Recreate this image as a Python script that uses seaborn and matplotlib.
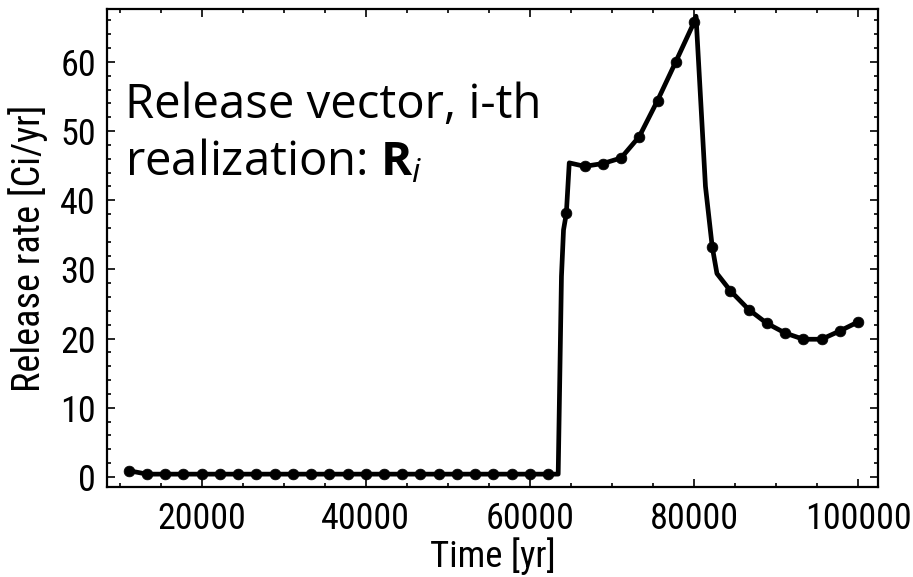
import matplotlib
matplotlib.use("Agg")
import matplotlib.pyplot as plt
import seaborn as sns
import pandas as pd

# Sampled release rates (markers) for the i-th realization
time_yr = [11111, 13333, 15556, 17778, 20000, 22222, 24444, 26667, 28889,
           31111, 33333, 35556, 37778, 40000, 42222, 44444, 46667, 48889,
           51111, 53333, 55556, 57778, 60000, 62222, 64444, 66667, 68889,
           71111, 73333, 75556, 77778, 80000, 82222, 84444, 86667, 88889,
           91111, 93333, 95556, 97778, 100000]
release_ci = [0.9, 0.4, 0.4, 0.4, 0.4, 0.4, 0.4, 0.4, 0.4,
              0.4, 0.4, 0.4, 0.4, 0.4, 0.4, 0.4, 0.4, 0.4,
              0.4, 0.4, 0.4, 0.4, 0.4, 0.4, 38.1, 44.9, 45.3,
              46.1, 49.2, 54.4, 60.0, 65.7, 33.3, 26.9, 24.2, 22.2,
              20.8, 19.9, 19.9, 21.1, 22.4]

# Continuous release curve (finer resolution than the samples)
curve_time = [11111, 13333, 15556, 17778, 20000, 22222, 24444, 26667, 28889,
              31111, 33333, 35556, 37778, 40000, 42222, 44444, 46667, 48889,
              51111, 53333, 55556, 57778, 60000, 62222, 63450, 63850, 64100,
              64444, 64800, 66667, 68889, 71111, 73333, 75556, 77778, 80000,
              80250, 81400, 82222, 82800, 84444, 86667, 88889, 91111, 93333,
              95556, 97778, 100000]
curve_ci = [0.9, 0.4, 0.4, 0.4, 0.4, 0.4, 0.4, 0.4, 0.4,
            0.4, 0.4, 0.4, 0.4, 0.4, 0.4, 0.4, 0.4, 0.4,
            0.4, 0.4, 0.4, 0.4, 0.4, 0.4, 0.4, 29.0, 35.7,
            38.1, 45.4, 44.9, 45.3, 46.1, 49.2, 54.4, 60.0, 65.7,
            66.6, 42.0, 33.3, 29.4, 26.9, 24.2, 22.2, 20.8, 19.9,
            19.9, 21.1, 22.4]

x_major = [20000, 40000, 60000, 80000, 100000]
x_minor = list(range(10000, 100001, 5000))
y_major = [0, 10, 20, 30, 40, 50, 60]
y_minor = list(range(0, 67, 2))

samples = pd.DataFrame({"time": time_yr, "rate": release_ci})
curve = pd.DataFrame({"time": curve_time, "rate": curve_ci})

sns.set_theme(style="ticks")
plt.rcParams["font.family"] = ["Roboto Condensed", "Liberation Sans", "DejaVu Sans"]
plt.rcParams["font.weight"] = "normal"
plt.rcParams["text.color"] = "black"
plt.rcParams["axes.labelcolor"] = "black"
plt.rcParams["xtick.color"] = "black"
plt.rcParams["ytick.color"] = "black"
plt.rcParams["mathtext.fontset"] = "custom"
plt.rcParams["mathtext.rm"] = "Open Sans"
plt.rcParams["mathtext.bf"] = "Open Sans:bold"
plt.rcParams["mathtext.it"] = "Open Sans:italic"

fig = plt.figure(figsize=(9.13, 5.77), dpi=100)
ax = fig.add_axes([0.1172, 0.1555, 0.8445, 0.8284])

sns.lineplot(data=curve, x="time", y="rate", sort=False, estimator=None,
             color="black", linewidth=3.4, ax=ax)
sns.scatterplot(data=samples, x="time", y="rate", color="black", s=60,
                edgecolor="black", linewidth=0.5, ax=ax, zorder=3)

ax.set_xlim(8457, 102435)
ax.set_ylim(-1.5, 67.6)
ax.set_xticks(x_major)
ax.set_xticks(x_minor, minor=True)
ax.set_yticks(y_major)
ax.set_yticks(y_minor, minor=True)
ax.set_xticklabels([str(v) for v in x_major])
ax.set_yticklabels([str(v) for v in y_major])

ax.tick_params(which="both", direction="in", top=True, right=True,
               color="black", width=1.2)
ax.tick_params(which="major", length=6)
ax.tick_params(which="minor", length=3)
ax.tick_params(axis="x", which="major", labelsize=26, pad=10)
ax.tick_params(axis="y", which="major", labelsize=26, pad=8)

for side in ax.spines.values():
    side.set_visible(True)
    side.set_color("black")
    side.set_linewidth(1.6)

ax.set_xlabel("Time [yr]", fontsize=26.5, labelpad=0)
ax.set_ylabel("Release rate [Ci/yr]", fontsize=27.5, labelpad=9)

ax.text(0.0233, 0.7726, "Release vector, i-th", transform=ax.transAxes,
        fontsize=34, family="Open Sans", weight="normal", va="baseline", ha="left")
ax.text(0.0233, 0.6533, r"realization: $\mathbf{R}_{i}$", transform=ax.transAxes,
        fontsize=34, family="Open Sans", weight="normal", va="baseline", ha="left")

fig.savefig("out.png", dpi=100)
